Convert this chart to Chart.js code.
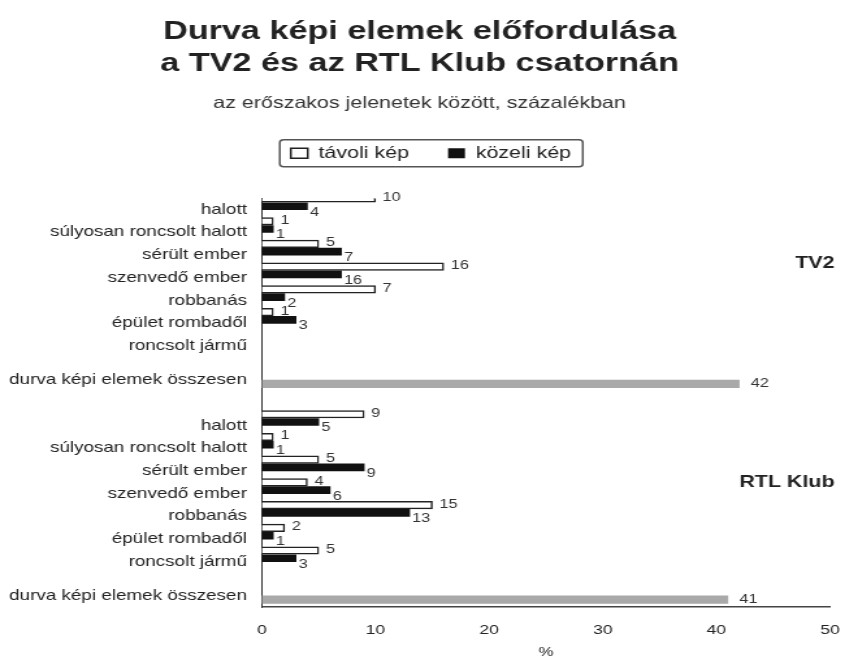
<!DOCTYPE html>
<html>
<head>
<meta charset="utf-8">
<script src="https://cdn.jsdelivr.net/npm/chart.js@4.4.1/dist/chart.umd.min.js"></script>
<style>
html,body{margin:0;padding:0;background:#fff;overflow:hidden}
/* the original graphic is stretched sideways, so draw narrow and widen it */
#wrap{position:absolute;left:0;top:0;width:657px;height:660px;transform:scaleX(1.3);transform-origin:0 0}
</style>
</head>
<body>
<div id="wrap"><canvas id="chart"></canvas></div>
<script>
var categories=['halott','súlyosan roncsolt halott','sérült ember','szenvedő ember','robbanás','épület rombadől','roncsolt jármű'];
var totalLabel='durva képi elemek összesen';
var groups=['TV2','RTL Klub'];
var seriesNames=['távoli kép','közeli kép'];

// bar lengths as drawn (TV2 has no roncsolt jármű bars)
var tv2Far=[10,1,5,16,10,1,null];
var tv2Close=[4,1,7,7,2,3,null];
var rtlFar=[9,1,5,4,15,2,5];
var rtlClose=[5,1,9,6,13,1,3];
var totals=[42,41];

// numbers printed next to the bars in the original
var tv2FarText=['10','1','5','16','7','1',''];
var tv2CloseText=['4','1','7','16','2','3',''];
var rtlFarText=['9','1','5','4','15','2','5'];
var rtlCloseText=['5','1','9','6','13','1','3'];
var totalText=['42','41'];

var xTicks=[0,10,20,30,40,50];

// rows on a half-row grid, empty slots give the spacing
var rows=[],farData=[],closeData=[],totalData=[],farText=[],closeText=[],totalTextRow=[];
function addRow(label,f,c,t,ft,ct,tt){
  rows.push(label);farData.push(f);closeData.push(c);totalData.push(t);
  farText.push(ft);closeText.push(ct);totalTextRow.push(tt);
}
function blank(n){
  for(var k=0;k<n;k++) addRow('',null,null,null,'','','');
}
var groupData=[
  {far:tv2Far,close:tv2Close,farText:tv2FarText,closeText:tv2CloseText},
  {far:rtlFar,close:rtlClose,farText:rtlFarText,closeText:rtlCloseText}
];
blank(1);
groupData.forEach(function(g,gi){
  if(gi>0) blank(3);
  categories.forEach(function(c,i){
    if(i>0) blank(1);
    addRow(c,g.far[i],g.close[i],null,g.farText[i],g.closeText[i],'');
  });
  blank(2);
  addRow(totalLabel,null,null,totals[gi],'','',totalText[gi]);
});
blank(1);

Chart.defaults.font.family='"Liberation Sans", Arial, sans-serif';
Chart.defaults.color='#222';

var extras={
  id:'extras',
  afterLayout:function(chart){
    // legend sits a little right of centre in the original
    if(chart.legend){chart.legend.left+=8.75;chart.legend.right+=8.75;}
  },
  afterDraw:function(chart){
    var ctx=chart.ctx;
    var lg=chart.legend;
    ctx.save();
    // legend frame
    if(lg&&lg.legendHitBoxes&&lg.legendHitBoxes.length){
      var hb=lg.legendHitBoxes;
      var l=hb[0].left-8.5, r=hb[hb.length-1].left+hb[hb.length-1].width+9;
      var cy=hb[0].top+hb[0].height/2;
      ctx.beginPath();
      ctx.roundRect(l,cy-13.5,r-l,27,3);
      ctx.lineWidth=1.5;
      ctx.strokeStyle='#555';
      ctx.stroke();
    }
    // group names
    var ys=chart.scales.y;
    ctx.font='bold 16.5px "Liberation Sans", Arial, sans-serif';
    ctx.fillStyle='#222';
    ctx.textAlign='right';
    ctx.textBaseline='middle';
    ctx.fillText(groups[0],chart.chartArea.right+3.5,ys.getPixelForValue(5.7));
    ctx.fillText(groups[1],chart.chartArea.right+3.5,ys.getPixelForValue(25));
    ctx.restore();
  },
  afterDatasetsDraw:function(chart){
    var ctx=chart.ctx;
    ctx.save();
    ctx.font='12.5px "Liberation Sans", Arial, sans-serif';
    ctx.fillStyle='#333';
    ctx.textAlign='left';
    ctx.textBaseline='middle';
    chart.data.datasets.forEach(function(ds,di){
      var meta=chart.getDatasetMeta(di);
      meta.data.forEach(function(bar,i){
        var t=ds.valueText[i];
        if(!t||ds.data[i]===null) return;
        ctx.fillText(t,bar.x+ds.textDx,bar.y+ds.textDy);
      });
    });
    ctx.restore();
  }
};

var ctx=document.getElementById('chart').getContext('2d');
var chart=new Chart(ctx,{
  type:'bar',
  data:{
    labels:rows,
    datasets:[{
      label:seriesNames[0],
      data:farData,
      valueText:farText,textDx:5.5,textDy:-1,
      backgroundColor:'#ffffff',
      borderColor:'#222222',
      borderWidth:1.5,
      barThickness:7.5,
      xAxisID:'x',yAxisID:'y'
    },{
      label:seriesNames[1],
      data:closeData,
      valueText:closeText,textDx:2,textDy:6,
      backgroundColor:'#111111',
      borderColor:'#111111',
      borderWidth:0,
      barThickness:7,
      xAxisID:'x',yAxisID:'y'
    },{
      label:'összesen',
      data:totalData,
      valueText:totalTextRow,textDx:9,textDy:0,
      backgroundColor:'#a9a9a9',
      borderWidth:0,
      barThickness:7.5,
      xAxisID:'x',yAxisID:'y2'
    }]
  },
  options:{
    indexAxis:'y',
    responsive:true,
    maintainAspectRatio:false,
    animation:false,
    layout:{padding:{left:7,right:18.5,top:0,bottom:0}},
    plugins:{
      title:{
        display:true,
        text:['Durva képi elemek előfordulása','a TV2 és az RTL Klub csatornán'],
        font:{size:26.3,weight:'bold',lineHeight:1.2},
        color:'#222',
        padding:{top:16,bottom:6}
      },
      subtitle:{
        display:true,
        text:'az erőszakos jelenetek között, százalékban',
        font:{size:16.5,lineHeight:1.2},
        color:'#333',
        padding:{top:8,bottom:2}
      },
      legend:{
        position:'top',
        labels:{
          boxWidth:13,
          boxHeight:10,
          padding:30,
          font:{size:16.5},
          color:'#222',
          filter:function(item){return item.datasetIndex<2;}
        }
      },
      tooltip:{enabled:false}
    },
    scales:{
      x:{
        position:'bottom',
        min:xTicks[0],
        max:xTicks[xTicks.length-1],
        afterBuildTicks:function(axis){
          axis.ticks=xTicks.map(function(v){return {value:v};});
        },
        afterFit:function(axis){
          axis.height-=axis.options.ticks.padding;
          axis.paddingRight=0;
        },
        grid:{display:false,drawTicks:false},
        border:{display:true,color:'#444',width:1.5},
        ticks:{font:{size:13.5},color:'#222',padding:15},
        title:{display:true,text:'%',font:{size:13,lineHeight:1.2},color:'#222',padding:{top:6,bottom:0}}
      },
      // empty top axis: keeps the gap under the legend
      xTop:{
        axis:'x',
        position:'top',
        min:xTicks[0],
        max:xTicks[xTicks.length-1],
        grid:{display:false,drawTicks:false},
        border:{display:false},
        ticks:{display:false},
        afterFit:function(axis){axis.height=27;axis.paddingRight=0;}
      },
      y:{
        offset:false,
        afterFit:function(axis){axis.width-=axis.options.ticks.padding;},
        grid:{display:false,drawTicks:false,offset:false},
        border:{display:true,color:'#333',width:1},
        ticks:{font:{size:14.5},color:'#222',padding:11.5,autoSkip:false}
      },
      y2:{
        type:'category',
        axis:'y',
        display:false,
        offset:false,
        grid:{display:false,offset:false}
      }
    }
  },
  plugins:[extras]
});
</script>
</body>
</html>
